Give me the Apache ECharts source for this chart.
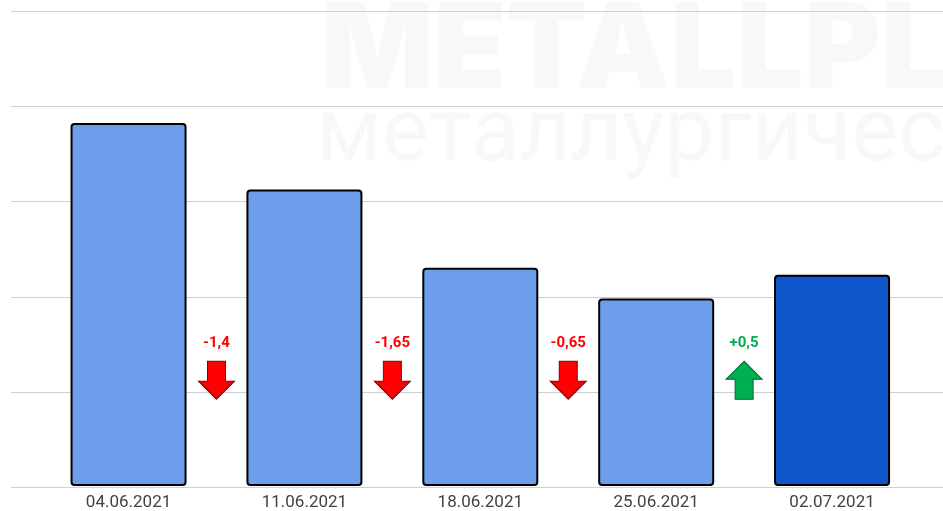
<!DOCTYPE html>
<html>
<head>
<meta charset="utf-8">
<script src="https://cdn.jsdelivr.net/npm/echarts@6/dist/echarts.min.js"></script>
<style>
  html, body { margin: 0; padding: 0; background: #fff; }
  #chart { width: 943px; height: 511px; }
</style>
</head>
<body>
<div id="chart"></div>
<script>
// даты и значения столбцов
const dates = ['04.06.2021', '11.06.2021', '18.06.2021', '25.06.2021', '02.07.2021'];
const prices = [7.65, 6.25, 4.6, 3.95, 4.45];
const yTicks = [0, 2, 4, 6, 8, 10];

const barColor = '#6d9eeb';
const lastBarColor = '#1155cc';
const downColor = '#ff0000';
const upColor = '#00b050';

const arrowDown = 'path://M9,0 L27,0 L27,20 L36,20 L18,38 L0,20 L9,20 Z';
const arrowUp = 'path://M18,0 L36,18 L27,18 L27,38 L9,38 L9,18 L0,18 Z';
const arrowLevel = 2.23; // высота стрелок в единицах оси

function fmtDelta(d) {
    let s = (Math.round(d * 100) / 100).toString().replace('.', ',');
    return d > 0 ? '+' + s : s;
}

// стрелки между столбцами
let deltas = [];
for (let i = 0; i < prices.length - 1; i++) {
    let d = prices[i + 1] - prices[i];
    let up = d > 0;
    let c = up ? upColor : downColor;
    deltas.push({
        value: [i + 1, arrowLevel],
        symbol: up ? arrowUp : arrowDown,
        itemStyle: { color: c, borderColor: up ? '#0b5d2c' : '#800000', borderWidth: 1, opacity: 1 },
        label: { formatter: fmtDelta(d), color: c }
    });
}

const yMin = yTicks[0], yMax = yTicks[yTicks.length - 1], yStep = yTicks[1] - yTicks[0];

const chart = echarts.init(document.getElementById('chart'));

const option = {
    animation: false,
    backgroundColor: '#fff',
    graphic: [
        {
            type: 'text', z: -10, silent: true,
            style: {
                x: 321, y: 53, text: 'METALLPLACE',
                font: '900 118px Inter', fill: '#f8f8f8', verticalAlign: 'middle'
            }
        },
        {
            type: 'text', z: -10, silent: true,
            style: {
                x: 316, y: 138, text: 'металлургический',
                fontSize: 89, fontFamily: 'Roboto',
                fill: '#f8f8f8', verticalAlign: 'middle'
            }
        }
    ],
    grid: [
        { left: 11, right: 0, top: 11.5, bottom: 24 },
        { left: 40.6, right: 23, top: 11.5, bottom: 24 }
    ],
    xAxis: [
        { gridIndex: 0, type: 'value', show: false, min: 0, max: 1 },
        {
            gridIndex: 1, type: 'category', data: dates,
            axisLine: { show: false }, axisTick: { show: false },
            axisLabel: { color: '#424242', fontSize: 17, fontFamily: 'Roboto', margin: 8 }
        },
        { gridIndex: 1, type: 'value', show: false, min: 0, max: dates.length }
    ],
    yAxis: [
        {
            gridIndex: 0, type: 'value', min: yMin, max: yMax, interval: yStep,
            axisLabel: { show: false }, axisLine: { show: false }, axisTick: { show: false },
            splitLine: { lineStyle: { color: '#d0d0d0', width: 1 } }
        },
        { gridIndex: 1, type: 'value', min: yMin, max: yMax, interval: yStep, show: false, splitLine: { show: false } }
    ],
    series: [
        {
            type: 'bar',
            xAxisIndex: 1, yAxisIndex: 1,
            barWidth: 116,
            data: prices.map((v, i) => ({
                value: v,
                itemStyle: { color: i === prices.length - 1 ? lastBarColor : barColor }
            })),
            itemStyle: { borderColor: '#000', borderWidth: 2, borderRadius: 3 }
        },
        {
            type: 'scatter',
            xAxisIndex: 2, yAxisIndex: 1,
            symbolSize: [36, 38],
            data: deltas,
            label: {
                show: true, position: 'top', distance: 10,
                fontSize: 15, fontWeight: 'bold', fontFamily: 'Roboto'
            }
        }
    ]
};

chart.setOption(option);
</script>
</body>
</html>
